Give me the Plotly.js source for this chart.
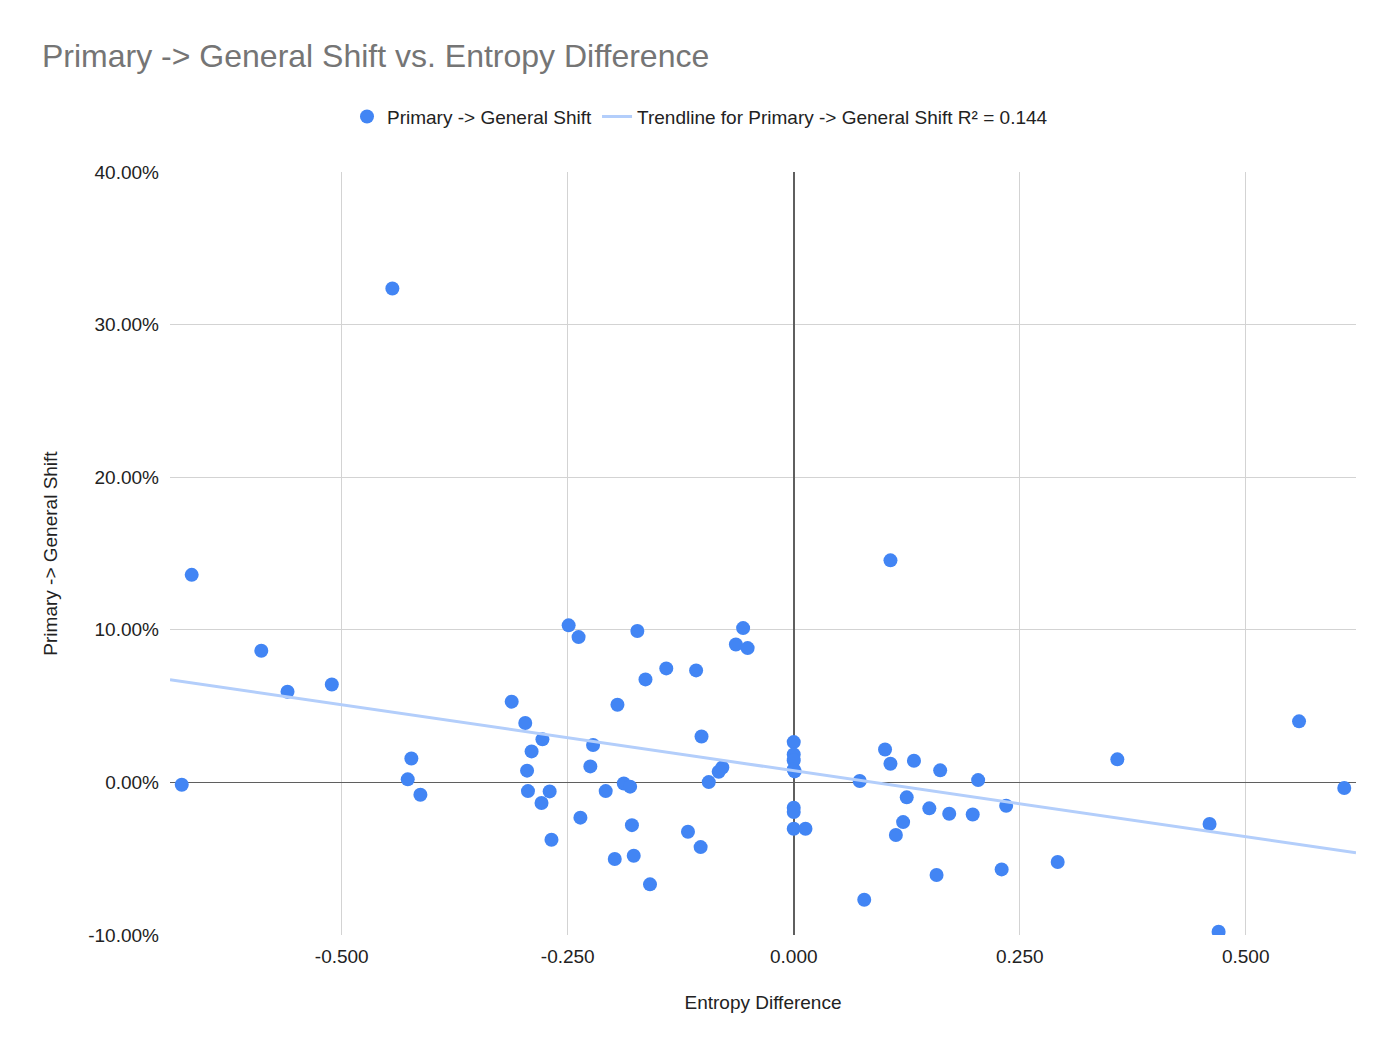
<!DOCTYPE html>
<html>
<head>
<meta charset="utf-8">
<script src="https://cdn.plot.ly/plotly-3.0.1.min.js"></script>
<style>
  html, body { margin: 0; padding: 0; background: #fff; }
  #chart { width: 1400px; height: 1060px; }
</style>
</head>
<body>
<div id="chart"></div>
<script>
// values
const entropyDiff = [
  -0.677, -0.666, -0.589, -0.560, -0.511, -0.444, -0.423, -0.427, -0.413,
  -0.312, -0.297, -0.278, -0.290, -0.295, -0.294, -0.270, -0.279, -0.268,
  -0.249, -0.238, -0.236, -0.222, -0.225, -0.208, -0.195, -0.198, -0.188,
  -0.181, -0.179, -0.177, -0.173, -0.164, -0.159, -0.141, -0.117, -0.108,
  -0.103, -0.102, -0.094, -0.083, -0.079, -0.064, -0.056, -0.051,
  0.000, 0.000, 0.000, 0.000, 0.001, 0.000, 0.000, 0.000, 0.013,
  0.073, 0.078, 0.101, 0.107, 0.107, 0.113, 0.121, 0.125, 0.133, 0.150,
  0.158, 0.162, 0.172, 0.198, 0.204, 0.230, 0.235, 0.292, 0.358, 0.460,
  0.470, 0.559, 0.609
];
const generalShift = [
  -0.0015, 0.1360, 0.0863, 0.0594, 0.0642, 0.3237, 0.0157, 0.0020, -0.0081,
  0.0529, 0.0389, 0.0282, 0.0203, 0.0077, -0.0057, -0.0059, -0.0135, -0.0376,
  0.1029, 0.0952, -0.0231, 0.0245, 0.0105, -0.0057, 0.0509, -0.0502, -0.0007,
  -0.0028, -0.0280, -0.0481, 0.0992, 0.0675, -0.0668, 0.0747, -0.0323, 0.0734,
  -0.0424, 0.0301, 0.0002, 0.0070, 0.0098, 0.0904, 0.1011, 0.0880,
  0.0264, 0.0183, 0.0145, 0.0085, 0.0072, -0.0166, -0.0194, -0.0304, -0.0304,
  0.0009, -0.0769, 0.0216, 0.0122, 0.1455, -0.0345, -0.0260, -0.0098, 0.0142, -0.0170,
  -0.0607, 0.0079, -0.0205, -0.0210, 0.0015, -0.0570, -0.0153, -0.0522, 0.0151, -0.0273,
  -0.0979, 0.0400, -0.0037
];

const xRange = [-0.690, 0.622];
const yRange = [-0.10, 0.40];
const xTicks = [-0.5, -0.25, 0, 0.25, 0.5];
const xTickLabels = ["-0.500", "-0.250", "0.000", "0.250", "0.500"];
const yTicks = [-0.1, 0, 0.1, 0.2, 0.3, 0.4];
const yTickLabels = ["-10.00%", "0.00%", "10.00%", "20.00%", "30.00%", "40.00%"];

// least squares fit for the trendline
function linearFit(xs, ys) {
  const n = xs.length;
  let sx = 0, sy = 0, sxx = 0, sxy = 0;
  for (let i = 0; i < n; i++) {
    sx += xs[i]; sy += ys[i];
    sxx += xs[i] * xs[i]; sxy += xs[i] * ys[i];
  }
  const slope = (n * sxy - sx * sy) / (n * sxx - sx * sx);
  const intercept = (sy - slope * sx) / n;
  return { slope, intercept };
}
const fit = linearFit(entropyDiff, generalShift);

const font = "Arial, 'Liberation Sans', sans-serif";

const traces = [
  {
    x: entropyDiff,
    y: generalShift,
    mode: "markers",
    type: "scatter",
    name: "Primary -> General Shift",
    marker: { color: "#4285f4", size: 14 },
  },
  {
    x: xRange,
    y: xRange.map((v) => fit.intercept + fit.slope * v),
    mode: "lines",
    type: "scatter",
    name: "Trendline for Primary -> General Shift R² = 0.144",
    line: { color: "#b3cefb", width: 3 },
  },
];

const layout = {
  width: 1400,
  height: 1060,
  margin: { l: 170, r: 44, t: 172, b: 125 },
  paper_bgcolor: "#fff",
  plot_bgcolor: "#fff",
  font: { family: font, size: 19, color: "#222" },
  title: {
    text: "Primary -> General Shift vs. Entropy Difference",
    font: { family: font, size: 32, color: "#757575" },
    xref: "container",
    yref: "container",
    x: 0.03,
    xanchor: "left",
    y: 0.947,
    yanchor: "middle",
  },
  showlegend: true,
  legend: {
    orientation: "h",
    xref: "container",
    yref: "container",
    x: 0.5,
    xanchor: "center",
    y: 0.89,
    yanchor: "middle",
    font: { family: font, size: 19, color: "#222" },
    itemwidth: 30,
  },
  xaxis: {
    range: xRange,
    tickvals: xTicks,
    ticktext: xTickLabels,
    showgrid: true,
    gridcolor: "#d3d3d3",
    gridwidth: 1.3,
    zeroline: true,
    zerolinecolor: "#5f5f5f",
    zerolinewidth: 1.6,
    showline: false,
    ticks: "",
    ticklabelstandoff: 8,
    tickfont: { family: font, size: 19, color: "#222" },
    title: {
      text: "Entropy Difference",
      font: { family: font, size: 19, color: "#222" },
      standoff: 29,
    },
    automargin: false,
  },
  yaxis: {
    range: yRange,
    tickvals: yTicks,
    ticktext: yTickLabels,
    showgrid: true,
    gridcolor: "#d3d3d3",
    gridwidth: 1.3,
    zeroline: true,
    zerolinecolor: "#5f5f5f",
    zerolinewidth: 1.6,
    showline: false,
    ticks: "",
    ticklabelstandoff: 10,
    tickfont: { family: font, size: 19, color: "#222" },
    title: {
      text: "Primary -> General Shift",
      font: { family: font, size: 19, color: "#222" },
      standoff: 25,
    },
    automargin: false,
  },
};

Plotly.newPlot("chart", traces, layout, { displayModeBar: false, staticPlot: true });
</script>
</body>
</html>
